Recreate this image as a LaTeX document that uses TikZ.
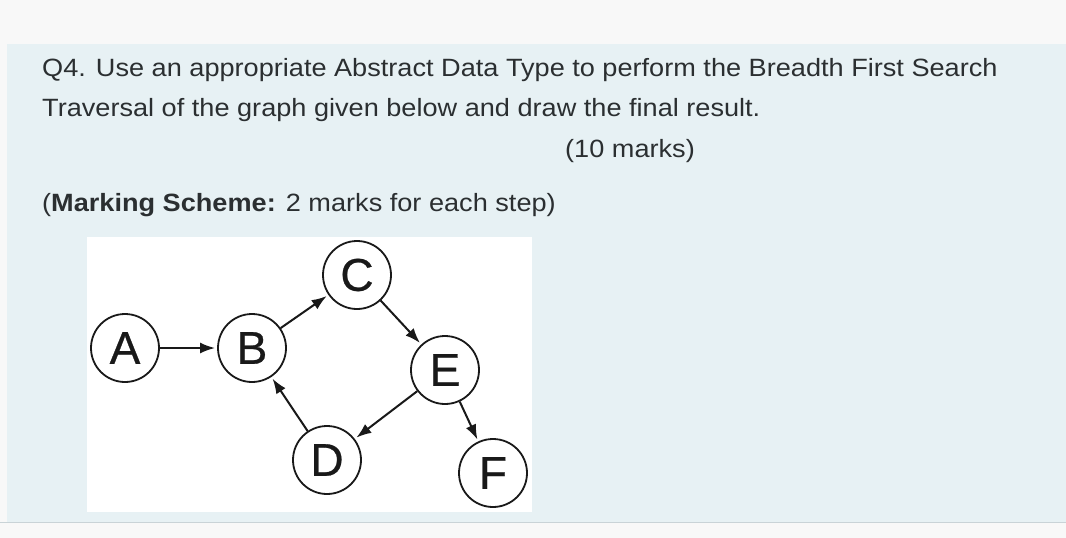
\documentclass[tikz,border=0pt]{standalone}
\usepackage{fontspec}
\setmainfont{Liberation Sans}
\newfontfamily\qfont[FakeStretch=1.085]{Liberation Sans}
\newfontfamily\nfont[FakeBold=0.6]{Liberation Sans}
\usetikzlibrary{arrows.meta}
\definecolor{pagebg}{HTML}{F8F8F8}
\definecolor{panel}{HTML}{E7F1F4}
\definecolor{panelline}{HTML}{C9D3D7}
\definecolor{txt}{HTML}{2B2F31}
\tikzset{
  vert/.style={circle,draw=black!90,line width=1.8pt,minimum size=68pt,inner sep=0pt,fill=white,text=black!90,font=\nfont\fontsize{46}{46}\selectfont},
  edge/.style={line width=2pt,draw=black!90,-{Latex[length=15pt,width=11pt]},shorten >=2pt},
  qtext/.style={anchor=base west,inner sep=0pt,text=txt,font=\qfont\fontsize{25}{28}\selectfont}
}
\begin{document}
\begin{tikzpicture}[x=1pt,y=-1pt]
\useasboundingbox (0,0) rectangle (1066,538);
\fill[pagebg] (0,0) rectangle (1066,538);
\fill[panel] (7,44) rectangle (1066,522);
\draw[panelline,line width=1.2pt] (0,522.5) -- (1066,522.5);
\fill[white] (87,237) rectangle (532,512);
\node[qtext] (l1) at (42,76) {Q4. Use an appropriate Abstract Data Type to perform the Breadth First Search};
\node[qtext] (l2) at (42,116) {Traversal of the graph given below and draw the final result.};
\node[qtext] (l3) at (565,157) {(10 marks)};
\node[qtext] (l4) at (42,211) {(\textbf{Marking Scheme:} 2 marks for each step)};
\node[vert] (A) at (125,348) {A};
\node[vert] (B) at (252,348) {B};
\node[vert] (C) at (357,275) {C};
\node[vert] (E) at (445,370) {E};
\node[vert] (D) at (327,460) {D};
\node[vert] (F) at (493,473) {F};
\draw[edge] (A) -- (B);
\draw[edge] (B) -- (C);
\draw[edge] (C) -- (E);
\draw[edge] (E) -- (D);
\draw[edge] (D) -- (B);
\draw[edge] (E) -- (F);
\end{tikzpicture}
\end{document}
